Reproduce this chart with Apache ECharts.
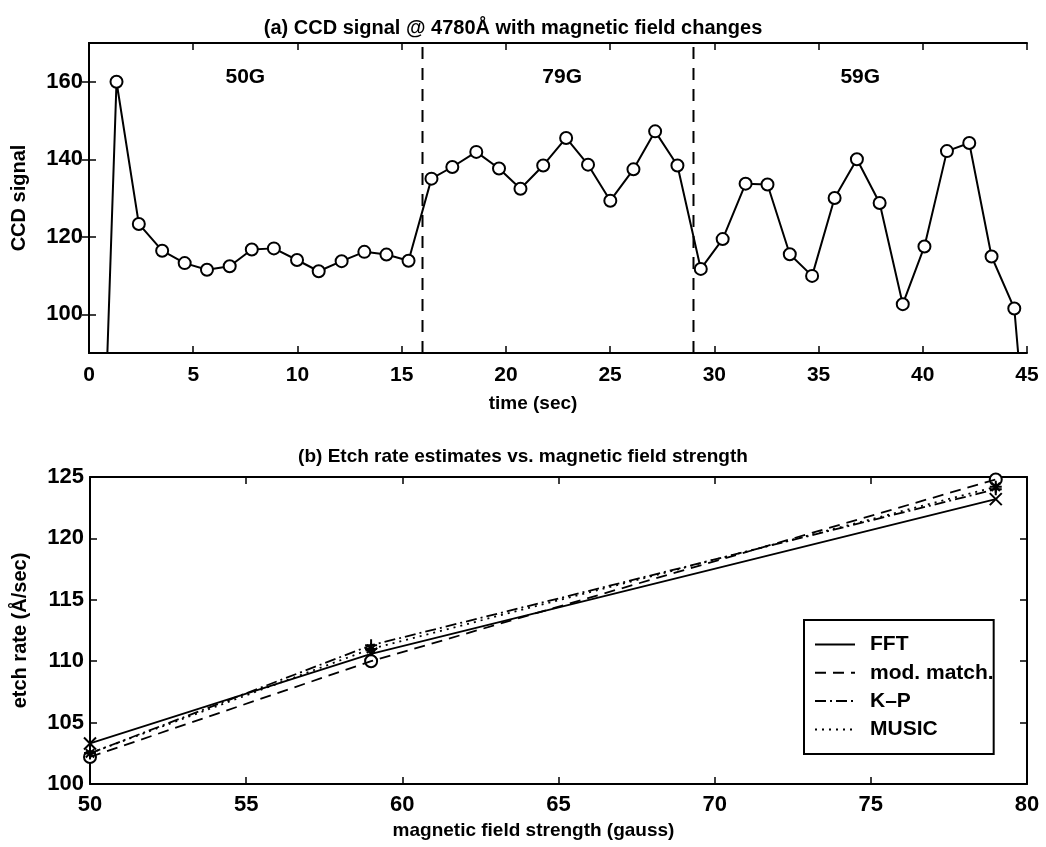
<!DOCTYPE html>
<html><head><meta charset="utf-8">
<script src="https://cdn.jsdelivr.net/npm/echarts@6/dist/echarts.min.js"></script>
<style>html,body{margin:0;padding:0;background:#fff}#c{width:1046px;height:847px}</style>
</head><body><div id="c"></div>
<script>
// ---- (a) CCD signal ----
const sampleTimes = [0.25, 1.32, 2.39, 3.51, 4.59, 5.66, 6.75, 7.81, 8.87, 9.98, 11.02, 12.12, 13.21, 14.27, 15.33,
  16.43, 17.43, 18.58, 19.67, 20.70, 21.79, 22.89, 23.94, 25.01, 26.12, 27.16, 28.23,
  29.35, 30.40, 31.50, 32.55, 33.62, 34.69, 35.77, 36.84, 37.93, 39.04, 40.08, 41.16, 42.23, 43.30, 44.39, 45.46];
const ccdSignal = [-11, 160, 123.3, 116.4, 113.2, 111.5, 112.4, 116.7, 117.0, 114.0, 111.1, 113.7, 116.1, 115.4, 113.8,
  135.0, 138.0, 141.9, 137.6, 132.4, 138.4, 145.5, 138.6, 129.3, 137.4, 147.2, 138.4,
  111.7, 119.4, 133.7, 133.5, 115.5, 109.9, 130.0, 140.0, 128.7, 102.6, 117.5, 142.1, 144.2, 114.9, 101.5, 35];
const fieldChangeTimes = [16, 29];
const fieldLabels = ['50G', '79G', '59G'];
const fieldLabelTimes = [7.5, 22.7, 37];
const fieldLabelLevel = 161.2;
const timeTicks = [0, 5, 10, 15, 20, 25, 30, 35, 40, 45];
const signalTicks = [100, 120, 140, 160];

// ---- (b) Etch rate ----
const fieldStrength = [50, 59, 79];
const methodNames = ['FFT', 'mod. match.', 'K\u2013P', 'MUSIC'];
const fftRate = [103.3, 110.6, 123.2];
const modMatchRate = [102.2, 110.0, 124.8];
const kpRate = [102.5, 111.3, 124.0];
const musicRate = [102.5, 111.0, 124.2];
const fieldTicks = [50, 55, 60, 65, 70, 75, 80];
const rateTicks = [100, 105, 110, 115, 120, 125];

const FONT = 'Liberation Sans, Arial, Helvetica, sans-serif';
const txt = (size) => ({ fontFamily: FONT, fontSize: size, fontWeight: 'bold', color: '#000' });
const axLine = { show: true, lineStyle: { color: '#000', width: 2 } };
const tickIn = (vals) => ({ show: true, inside: true, length: 7, lineStyle: { color: '#000', width: 1.5 }, customValues: vals });

const chart = echarts.init(document.getElementById('c'), null, { renderer: 'canvas' });

const rates = [fftRate, modMatchRate, kpRate, musicRate];
const lineTypes = ['solid', [11, 7], [11, 4, 2, 4], [2, 5]];
const markers = [
  'path://M0,0L10,10M10,0L0,10',
  'emptyCircle',
  'path://M5,0L5,10M0,5L10,5',
  'path://M5,0L5,10M0,5L10,5M1.5,1.5L8.5,8.5M8.5,1.5L1.5,8.5'
];

const etchLines = methodNames.map((n, i) => ({
  name: n, type: 'line', xAxisIndex: 2, yAxisIndex: 2,
  data: fieldStrength.map((f, j) => [f, rates[i][j]]),
  symbol: 'none',
  lineStyle: { color: '#000', width: 1.8, type: lineTypes[i] },
  itemStyle: { color: '#000' }
}));
const etchMarks = methodNames.map((n, i) => ({
  type: 'scatter', xAxisIndex: 2, yAxisIndex: 2,
  data: fieldStrength.map((f, j) => [f, rates[i][j]]),
  symbol: markers[i], symbolSize: 12,
  itemStyle: { opacity: 1, color: markers[i] === 'emptyCircle' ? '#000' : 'none', borderColor: '#000', borderWidth: 2 }
}));

const option = {
  animation: false,
  backgroundColor: '#fff',
  title: [
    { text: '(a) CCD signal @ 4780\u00C5 with magnetic field changes', left: 508, textAlign: 'center', top: 13, textStyle: txt(20) },
    { text: '(b) Etch rate estimates vs. magnetic field strength', left: 518, textAlign: 'center', top: 442, textStyle: txt(19) }
  ],
  legend: {
    data: methodNames,
    orient: 'vertical', left: 804, top: 620,
    itemWidth: 40, itemHeight: 14, itemGap: 7.3,
    itemStyle: { opacity: 0 },
    padding: [14, 0, 14, 10],
    borderColor: '#000', borderWidth: 2, backgroundColor: '#fff',
    textStyle: Object.assign(txt(21), { padding: [0, 0, 0, 10] })
  },
  grid: [
    { left: 89, top: 43, width: 938, height: 310 },
    { left: 90, top: 477, width: 937, height: 307 }
  ],
  xAxis: [
    { gridIndex: 0, type: 'value', min: 0, max: 45, interval: 5, position: 'bottom',
      axisLine: axLine, axisTick: tickIn(timeTicks), splitLine: { show: false },
      axisLabel: Object.assign(txt(21), { margin: 12, customValues: timeTicks }),
      name: 'time (sec)', nameLocation: 'middle', nameGap: 41, nameTextStyle: Object.assign(txt(19), { padding: [0, 50, 0, 0] }) },
    { gridIndex: 0, type: 'value', min: 0, max: 45, interval: 5, position: 'top',
      axisLine: axLine, axisTick: tickIn(timeTicks), axisLabel: { show: false }, splitLine: { show: false } },
    { gridIndex: 1, type: 'value', min: 50, max: 80, interval: 5, position: 'bottom',
      axisLine: axLine, axisTick: tickIn(fieldTicks), splitLine: { show: false },
      axisLabel: Object.assign(txt(22), { margin: 10, customValues: fieldTicks }),
      name: 'magnetic field strength (gauss)', nameLocation: 'middle', nameGap: 37, nameTextStyle: Object.assign(txt(19), { padding: [0, 50, 0, 0] }) },
    { gridIndex: 1, type: 'value', min: 50, max: 80, interval: 5, position: 'top',
      axisLine: axLine, axisTick: tickIn(fieldTicks), axisLabel: { show: false }, splitLine: { show: false } }
  ],
  yAxis: [
    { gridIndex: 0, type: 'value', min: 90, max: 170, position: 'left',
      axisLine: axLine, axisTick: tickIn(signalTicks), splitLine: { show: false },
      axisLabel: Object.assign(txt(22), { margin: 6, customValues: signalTicks }),
      name: 'CCD signal', nameLocation: 'middle', nameGap: 60, nameTextStyle: txt(20) },
    { gridIndex: 0, type: 'value', min: 90, max: 170, position: 'right',
      axisLine: axLine, axisTick: tickIn(signalTicks), axisLabel: { show: false }, splitLine: { show: false } },
    { gridIndex: 1, type: 'value', min: 100, max: 125, interval: 5, position: 'left',
      axisLine: axLine, axisTick: tickIn(rateTicks), splitLine: { show: false },
      axisLabel: Object.assign(txt(22), { margin: 6, customValues: rateTicks }),
      name: 'etch rate (\u00C5/sec)', nameLocation: 'middle', nameGap: 60, nameTextStyle: txt(20) },
    { gridIndex: 1, type: 'value', min: 100, max: 125, interval: 5, position: 'right',
      axisLine: axLine, axisTick: tickIn(rateTicks), axisLabel: { show: false }, splitLine: { show: false } }
  ],
  series: [
    { type: 'line', xAxisIndex: 0, yAxisIndex: 0, clip: true,
      data: sampleTimes.map((t, i) => [t, ccdSignal[i]]),
      symbol: 'emptyCircle', symbolSize: 12, showSymbol: true,
      lineStyle: { color: '#000', width: 2 },
      itemStyle: { color: '#000', borderColor: '#000', borderWidth: 2 } },
    ...fieldChangeTimes.map(t => ({
      type: 'line', xAxisIndex: 0, yAxisIndex: 0, symbol: 'none',
      data: [[t, 90], [t, 170]],
      lineStyle: { color: '#000', width: 2, type: [12, 9] } })),
    { type: 'scatter', xAxisIndex: 0, yAxisIndex: 0, symbolSize: 1,
      itemStyle: { opacity: 0 },
      data: fieldLabelTimes.map((t, i) => [t, fieldLabelLevel, fieldLabels[i]]),
      label: Object.assign({ show: true, position: 'inside', opacity: 1, formatter: p => p.data[2] }, txt(21)) },
    ...etchLines,
    ...etchMarks
  ]
};
chart.setOption(option);
</script>
</body></html>
